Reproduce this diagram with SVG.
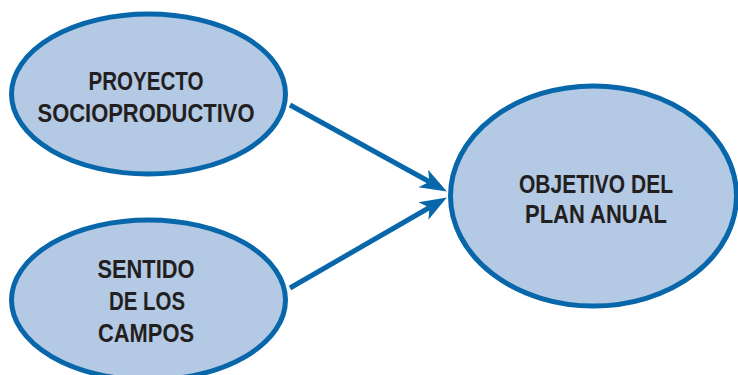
<svg xmlns="http://www.w3.org/2000/svg" width="738" height="375" viewBox="0 0 738 375">
<style>
.node ellipse{fill:#B3C9E4;stroke:#0866AA;stroke-width:5}
.node text{font-family:"Liberation Sans",Arial,sans-serif;font-weight:bold;font-size:25.5px;fill:#231F20;text-anchor:middle}
.conn line{stroke:#0866AA;stroke-width:5;fill:none}
</style>
<defs>
<marker id="arrow" markerUnits="userSpaceOnUse" viewBox="0 -12 28 24" markerWidth="28" markerHeight="24" refX="7" refY="0" orient="auto">
<path d="M0,-10 L27,0 L0,10 L7,0 Z" fill="#0866AA"/>
</marker>
</defs>
<rect width="738" height="375" fill="#FFFFFF"/>
<g id="connectors" class="conn">
<line x1="290" y1="105" x2="429.4" y2="181.8" marker-end="url(#arrow)"/>
<line x1="290" y1="288" x2="429.5" y2="207.5" marker-end="url(#arrow)"/>
</g>
<g id="proyecto" class="node">
<ellipse cx="148.5" cy="94" rx="137" ry="80"/>
<text x="146" y="90" textLength="115" lengthAdjust="spacingAndGlyphs">PROYECTO</text>
<text x="146" y="122" textLength="217" lengthAdjust="spacingAndGlyphs">SOCIOPRODUCTIVO</text>
</g>
<g id="sentido" class="node">
<ellipse cx="148.5" cy="300" rx="137" ry="80"/>
<text x="146" y="278" textLength="97" lengthAdjust="spacingAndGlyphs">SENTIDO</text>
<text x="147" y="310" textLength="76" lengthAdjust="spacingAndGlyphs">DE LOS</text>
<text x="146" y="342" textLength="96" lengthAdjust="spacingAndGlyphs">CAMPOS</text>
</g>
<g id="objetivo" class="node">
<ellipse cx="593.5" cy="196" rx="143" ry="110"/>
<text x="596" y="193" textLength="154" lengthAdjust="spacingAndGlyphs">OBJETIVO DEL</text>
<text x="596" y="223" textLength="142" lengthAdjust="spacingAndGlyphs">PLAN ANUAL</text>
</g>
</svg>
